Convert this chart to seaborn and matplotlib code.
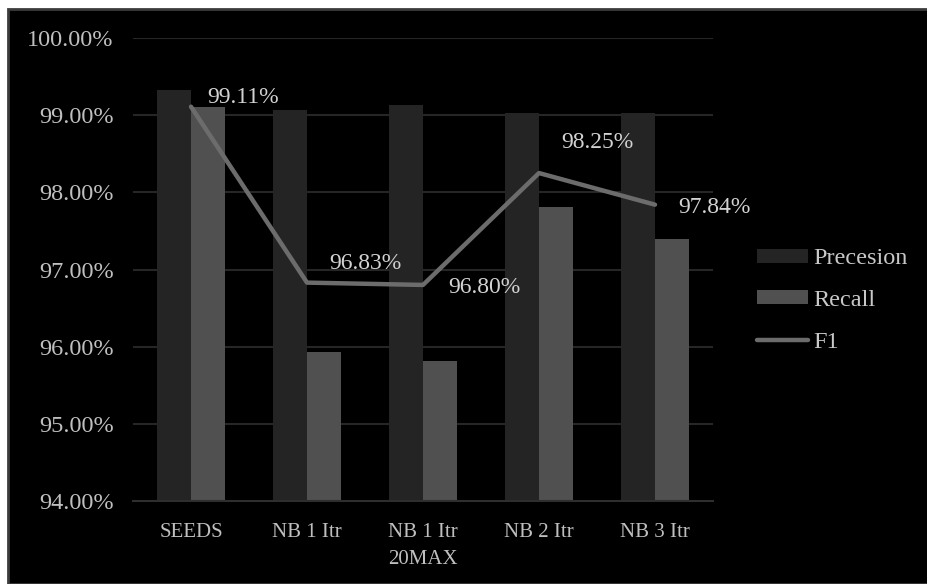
import numpy as np
import pandas as pd
import matplotlib
matplotlib.use("Agg")
import matplotlib.pyplot as plt
from matplotlib.patches import Rectangle
import seaborn as sns

categories = ["SEEDS", "NB 1 Itr", "NB 1 Itr\n20MAX", "NB 2 Itr", "NB 3 Itr"]
precision = [99.32, 99.07, 99.13, 99.03, 99.03]
recall = [99.10, 95.93, 95.81, 97.81, 97.40]
f1 = [99.11, 96.83, 96.80, 98.25, 97.84]
f1_labels = ["99.11%", "96.83%", "96.80%", "98.25%", "97.84%"]
yticks = [94, 95, 96, 97, 98, 99, 100]
ytick_labels = ["94.00%", "95.00%", "96.00%", "97.00%", "98.00%", "99.00%", "100.00%"]

sns.set_theme(style="dark")
plt.rcParams["font.family"] = ["Liberation Serif", "DejaVu Serif"]

W, H = 927, 584
fig = plt.figure(figsize=(W / 100, H / 100), dpi=100, facecolor="white")

# black panel with thin grey border
fig.patches.append(Rectangle((8 / W, 0), 1 - 8 / W + 0.01, (H - 9) / H,
                             transform=fig.transFigure, facecolor="black",
                             edgecolor="#3c3c3c", linewidth=2, zorder=-10))

ax = fig.add_axes([133 / W, (H - 501) / H, (713 - 133) / W, (501 - 38) / H])
ax.set_facecolor("black")

df = pd.DataFrame({
    "cat": categories * 2,
    "metric": ["Precesion"] * len(categories) + ["Recall"] * len(categories),
    "value": precision + recall,
})
sns.barplot(data=df, x="cat", y="value", hue="metric", order=categories,
            hue_order=["Precesion", "Recall"],
            palette={"Precesion": "#242424", "Recall": "#505050"},
            width=0.58, gap=0, saturation=1, ax=ax, zorder=2, legend=True,
            linewidth=0, edgecolor="none")

pos = np.arange(len(categories))
sns.lineplot(x=pos, y=f1, ax=ax, color="#6c6c6c", linewidth=3.2, sort=False,
             label="F1", zorder=3)

offsets = [(12, 6.5), (16, 13.7), (18, -2), (16, 22), (17, -2)]
for x, y, lab, off in zip(pos, f1, f1_labels, offsets):
    ax.annotate(lab, (x, y), xytext=off, textcoords="offset points",
                ha="left", va="center", fontsize=17, color="#d2d2d2", zorder=4)

ax.set_ylim(94, 100)
ax.set_xlim(-0.5, len(categories) - 0.5)
ax.set_yticks(yticks)
ax.set_yticklabels(ytick_labels)
ax.set_xticks(pos)
ax.set_xticklabels(categories, linespacing=1.55)
ax.grid(axis="y", color="#262626", linewidth=1.5, zorder=0)
ax.grid(axis="x", visible=False)
ax.set_axisbelow(True)
ax.tick_params(axis="y", length=0, pad=14, labelsize=17.5, labelcolor="#bfbfbf")
ax.tick_params(axis="x", length=0, pad=16, labelsize=15, labelcolor="#bfbfbf")
ax.set_xlabel("")
ax.set_ylabel("")
for s in ["top", "right", "left"]:
    ax.spines[s].set_visible(False)
ax.spines["bottom"].set_color("#2e2e2e")
ax.spines["bottom"].set_linewidth(1.5)

handles, labels = ax.get_legend_handles_labels()
if ax.legend_:
    ax.legend_.remove()
leg = fig.legend(handles, labels, loc="center left",
                 bbox_to_anchor=(757 / W, 1 - 300.5 / H),
                 frameon=False, fontsize=17.5, labelcolor="#c8c8c8",
                 handlelength=2.1, handleheight=0.5, handletextpad=0.2,
                 labelspacing=0.85, borderaxespad=0, borderpad=0)

fig.savefig("out.png", dpi=100, facecolor="white")
